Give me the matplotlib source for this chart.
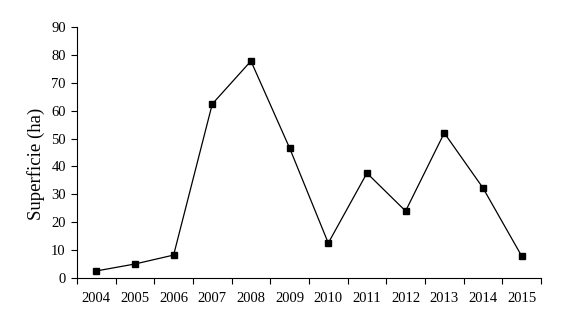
import matplotlib.pyplot as plt
import numpy as np

anios = ['2004', '2005', '2006', '2007', '2008', '2009',
         '2010', '2011', '2012', '2013', '2014', '2015']
superficie = [2.5, 5.0, 8.2, 62.4, 77.8, 46.6, 12.5, 37.6, 24.0, 52.0, 32.3, 7.9]

plt.rcParams['font.family'] = ['Liberation Serif', 'DejaVu Serif']

fig = plt.figure(figsize=(5.7, 3.18), dpi=100)
ax = fig.add_axes([0.135, 0.126, 0.814, 0.789])

x = np.arange(len(anios)) + 0.5
ax.plot(x, superficie, color='black', linewidth=0.9, marker='s',
        markersize=4.5, markerfacecolor='black')

ax.set_xlim(0, len(anios))
ax.set_ylim(0, 90)
ax.set_yticks(range(0, 91, 10))
ax.set_xticks(np.arange(len(anios) + 1))
ax.set_xticklabels([])
ax.set_xticks(x, minor=True)
ax.set_xticklabels(anios, minor=True)
ax.tick_params(axis='x', which='minor', length=0, labelsize=10.5, pad=10)
ax.tick_params(axis='x', which='major', length=4, width=0.8, direction='out')
ax.tick_params(axis='y', length=4, width=0.8, labelsize=10.5, pad=4)

ax.spines['top'].set_visible(False)
ax.spines['right'].set_visible(False)
ax.spines['left'].set_linewidth(0.8)
ax.spines['bottom'].set_linewidth(0.8)

ax.set_ylabel('Superficie (ha)', fontsize=13.5)
ax.yaxis.set_label_coords(-0.068, 0.454)

fig.savefig('out.png', dpi=100)
